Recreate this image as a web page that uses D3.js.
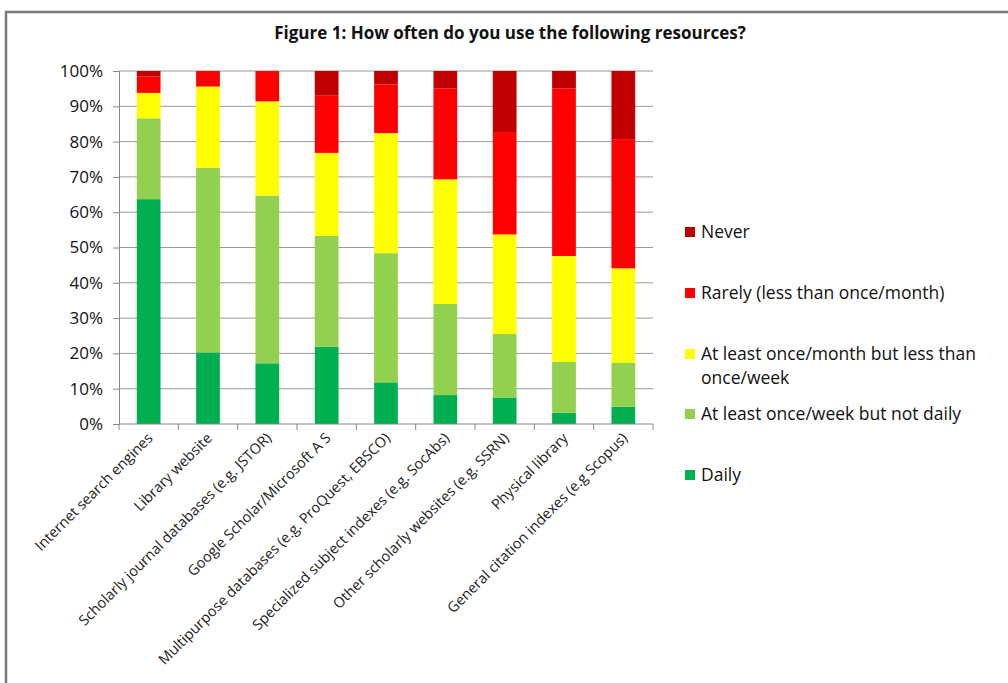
<!DOCTYPE html>
<html>
<head>
<meta charset="utf-8">
<script src="https://cdn.jsdelivr.net/npm/d3@7"></script>
<style>
  body { margin: 0; background: #fff; }
  svg { display: block; font-family: "Open Sans", "Noto Sans", sans-serif; }
</style>
</head>
<body>
<svg id="chart" width="1008" height="683"></svg>
<script>
var categories = [
    "Internet search engines",
    "Library website",
    "Scholarly journal databases (e.g. JSTOR)",
    "Google Scholar/Microsoft A S",
    "Multipurpose databases (e.g. ProQuest, EBSCO)",
    "Specialized subject indexes (e.g. SocAbs)",
    "Other scholarly websites (e.g. SSRN)",
    "Physical library",
    "General citation indexes (e.g Scopus)"
];

// percentages, bottom to top
var daily   = [63.7, 20.3, 17.2, 21.9, 11.8, 8.2, 7.5, 3.2, 4.9];
var weekly  = [22.9, 52.3, 47.5, 31.4, 36.6, 25.8, 18.0, 14.4, 12.5];
var monthly = [7.2, 23.0, 26.7, 23.5, 34.0, 35.3, 28.2, 30.0, 26.7];
var rarely  = [4.6, 4.4, 8.6, 16.2, 13.8, 25.8, 29.0, 47.5, 36.6];
var never   = [1.6, 0, 0, 7.0, 3.8, 4.9, 17.3, 4.9, 19.3];

var seriesNames = ["Daily", "At least once/week but not daily", "At least once/month but less than once/week", "Rarely (less than once/month)", "Never"];
var seriesColors = ["#00b050", "#92d050", "#ffff00", "#ff0000", "#c00000"];
var yTicks = [0, 10, 20, 30, 40, 50, 60, 70, 80, 90, 100];

var seriesValues = [daily, weekly, monthly, rarely, never];
var rows = categories.map(function(cat, i) {
    var row = {name: cat};
    seriesNames.forEach(function(s, j) { row[s] = seriesValues[j][i]; });
    return row;
});

var svg = d3.select("#chart");
var plotLeft = 119, plotRight = 653, plotTop = 71, plotBottom = 424;

// frame
svg.append("path")
    .attr("d", "M6,690 L6,12 L1010,12")
    .attr("fill", "none")
    .attr("stroke", "#7a7a7a")
    .attr("stroke-width", 2.5);

svg.append("text")
    .text("Figure 1: How often do you use the following resources?")
    .attr("x", 510)
    .attr("y", 39)
    .attr("text-anchor", "middle")
    .attr("font-size", 17)
    .attr("font-weight", "bold")
    .attr("fill", "#111");

var x = d3.scaleBand().domain(categories).range([plotLeft, plotRight]).paddingInner(0.6).paddingOuter(0.3);
var xb = d3.scaleBand().domain(categories).range([plotLeft, plotRight]);
var y = d3.scaleLinear().domain([0, 100]).range([plotBottom, plotTop]);

// gridlines
svg.append("g")
    .selectAll("line")
    .data(yTicks.slice(1))
    .enter().append("line")
    .attr("x1", plotLeft).attr("x2", plotRight)
    .attr("y1", function(d) { return y(d); })
    .attr("y2", function(d) { return y(d); })
    .attr("stroke", "#999")
    .attr("stroke-width", 1);

// y axis
var yAxis = svg.append("g")
    .attr("transform", "translate(" + plotLeft + ",0)")
    .call(d3.axisLeft(y).tickValues(yTicks).tickSize(6).tickPadding(10).tickFormat(function(d) { return d + "%"; }));
yAxis.selectAll("line, path").attr("stroke", "#888");
yAxis.selectAll("text").attr("font-size", 17).attr("fill", "#111").attr("font-family", "Open Sans, sans-serif");

// bars
var stack = d3.stack().keys(seriesNames)(rows);
svg.append("g")
    .selectAll("g")
    .data(stack)
    .enter().append("g")
    .attr("fill", function(d, i) { return seriesColors[i]; })
    .selectAll("rect")
    .data(function(d) { return d; })
    .enter().append("rect")
    .attr("x", function(d) { return x(d.data.name); })
    .attr("width", x.bandwidth())
    .attr("y", function(d) { return y(d[1]); })
    .attr("height", function(d) { return y(d[0]) - y(d[1]); });

// x axis line with boundary ticks
svg.append("line")
    .attr("x1", plotLeft).attr("x2", plotRight)
    .attr("y1", plotBottom).attr("y2", plotBottom)
    .attr("stroke", "#888");
var boundaries = categories.map(function(c) { return xb(c); }).concat([plotRight]);
svg.append("g")
    .selectAll("line")
    .data(boundaries)
    .enter().append("line")
    .attr("x1", function(d) { return d; }).attr("x2", function(d) { return d; })
    .attr("y1", plotBottom).attr("y2", plotBottom + 6)
    .attr("stroke", "#888");

// x labels
svg.append("g")
    .selectAll("text")
    .data(categories)
    .enter().append("text")
    .text(function(d) { return d; })
    .attr("transform", function(d) {
        return "translate(" + (xb(d) + xb.bandwidth() / 2 + 5) + "," + (plotBottom + 15) + ") rotate(-45)";
    })
    .attr("text-anchor", "end")
    .attr("font-size", 14.5)
    .attr("fill", "#222");

// legend, top entry is Never
var legendItems = [
    {name: "Never", lines: ["Never"], color: seriesColors[4], y: 232},
    {name: "Rarely", lines: ["Rarely (less than once/month)"], color: seriesColors[3], y: 293},
    {name: "Monthly", lines: ["At least once/month but less than", "once/week"], color: seriesColors[2], y: 354},
    {name: "Weekly", lines: ["At least once/week but not daily"], color: seriesColors[1], y: 414},
    {name: "Daily", lines: ["Daily"], color: seriesColors[0], y: 475}
];
var legend = svg.append("g").selectAll("g").data(legendItems).enter().append("g");
legend.append("rect")
    .attr("x", 685).attr("y", function(d) { return d.y - 5; })
    .attr("width", 10).attr("height", 10)
    .attr("fill", function(d) { return d.color; });
legend.each(function(d) {
    var g = d3.select(this);
    d.lines.forEach(function(line, i) {
        g.append("text")
            .text(line)
            .attr("x", 701)
            .attr("y", d.y + 6 + i * 24)
            .attr("font-size", 17.5)
            .attr("fill", "#111");
    });
});
</script>
</body>
</html>
